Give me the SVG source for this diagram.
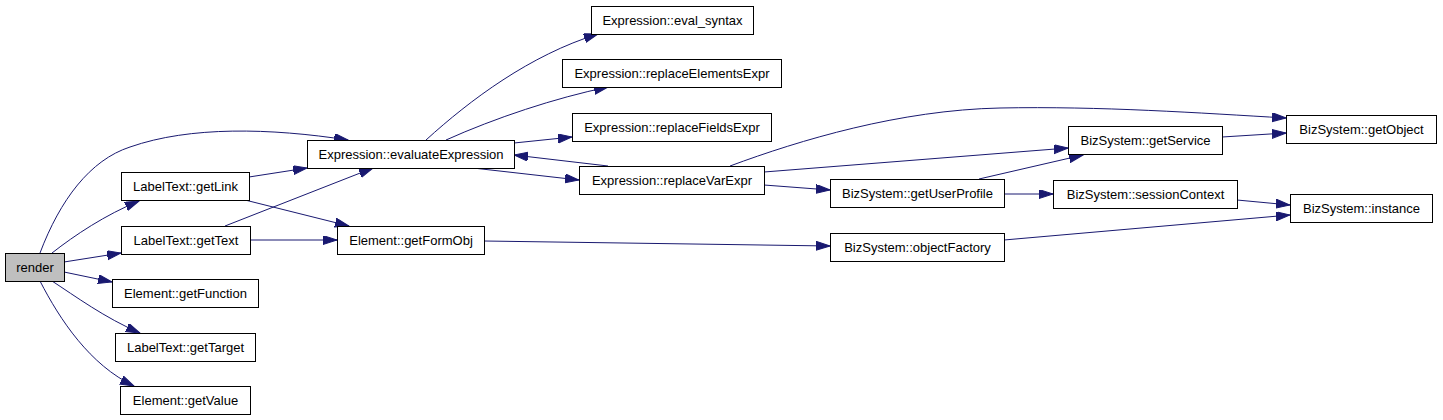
<svg xmlns="http://www.w3.org/2000/svg" width="1443" height="420" viewBox="0 0 1443 420">
<style>
.n rect{fill:#ffffff;stroke:#000000;stroke-width:1}
.n text{font-family:"Liberation Sans",Arial,sans-serif;font-size:13px;fill:#000000;text-anchor:middle}
#render rect{fill:#bfbfbf}
.e path{fill:none;stroke:#191970;stroke-width:1;marker-end:url(#arr)}
</style>
<defs>
<marker id="arr" markerUnits="userSpaceOnUse" markerWidth="15" markerHeight="10" refX="14" refY="4.5" orient="auto">
<path d="M0,0 L14,4.5 L0,9 z" fill="#191970" stroke="#191970" stroke-width="1"/>
</marker>
</defs>
<rect width="1443" height="420" fill="#ffffff"/>
<g id="connectors" class="e">
<path d="M40,253 C60,200 90,160 130,147 C190,126 270,128 348,140"/>
<path d="M52,253 C75,235 105,215 139,201"/>
<path d="M64,262 L121,253"/>
<path d="M64,272 L112,282"/>
<path d="M52,281 C75,296 105,318 140,333"/>
<path d="M40,281 C60,320 90,365 134,386"/>
<path d="M249,177 L307,168"/>
<path d="M245,200 L349,226"/>
<path d="M225,226 L373,168"/>
<path d="M250,240 L337,240"/>
<path d="M426,140 C470,100 530,55 598,34"/>
<path d="M446,140 C495,118 555,98 608,87"/>
<path d="M514,143 L572,137"/>
<path d="M608,166 L514,155"/>
<path d="M473,168 L579,180"/>
<path d="M484,241 L830,246"/>
<path d="M730,166 C800,140 900,110 1000,108 C1100,106 1200,113 1286,118"/>
<path d="M764,172 L1068,148"/>
<path d="M764,185 L830,190"/>
<path d="M979,179 L1083,155"/>
<path d="M1004,194 L1053,194"/>
<path d="M1222,137 L1286,133"/>
<path d="M1237,200 L1290,205"/>
<path d="M1004,240 L1290,215"/>
</g>
<g id="render" class="n"><rect x="5.5" y="253.5" width="59" height="28"/><text x="35" y="272">render</text></g>
<g id="getLink" class="n"><rect x="121.5" y="172.5" width="128" height="28"/><text x="185.5" y="191">LabelText::getLink</text></g>
<g id="getText" class="n"><rect x="121.5" y="226.5" width="129" height="28"/><text x="186" y="245">LabelText::getText</text></g>
<g id="getFunction" class="n"><rect x="112.5" y="279.5" width="146" height="28"/><text x="185.5" y="298">Element::getFunction</text></g>
<g id="getTarget" class="n"><rect x="115.5" y="333.5" width="140" height="28"/><text x="185.5" y="352">LabelText::getTarget</text></g>
<g id="getValue" class="n"><rect x="120.5" y="386.5" width="130" height="28"/><text x="185.5" y="405">Element::getValue</text></g>
<g id="evaluateExpression" class="n"><rect x="307.5" y="140.5" width="207" height="28"/><text x="411" y="159">Expression::evaluateExpression</text></g>
<g id="eval_syntax" class="n"><rect x="591.5" y="6.5" width="162" height="28"/><text x="672.5" y="25">Expression::eval_syntax</text></g>
<g id="replaceElementsExpr" class="n"><rect x="562.5" y="59.5" width="219" height="28"/><text x="672" y="78">Expression::replaceElementsExpr</text></g>
<g id="replaceFieldsExpr" class="n"><rect x="572.5" y="113.5" width="199" height="28"/><text x="672" y="132">Expression::replaceFieldsExpr</text></g>
<g id="replaceVarExpr" class="n"><rect x="579.5" y="166.5" width="185" height="28"/><text x="672" y="185">Expression::replaceVarExpr</text></g>
<g id="getFormObj" class="n"><rect x="337.5" y="226.5" width="147" height="28"/><text x="411" y="245">Element::getFormObj</text></g>
<g id="getService" class="n"><rect x="1068.5" y="126.5" width="154" height="28"/><text x="1145.5" y="145">BizSystem::getService</text></g>
<g id="getUserProfile" class="n"><rect x="830.5" y="179.5" width="174" height="28"/><text x="917.5" y="198">BizSystem::getUserProfile</text></g>
<g id="sessionContext" class="n"><rect x="1053.5" y="180.5" width="184" height="28"/><text x="1145.5" y="199">BizSystem::sessionContext</text></g>
<g id="objectFactory" class="n"><rect x="830.5" y="233.5" width="174" height="28"/><text x="917.5" y="252">BizSystem::objectFactory</text></g>
<g id="getObject" class="n"><rect x="1286.5" y="115.5" width="150" height="28"/><text x="1361.5" y="134">BizSystem::getObject</text></g>
<g id="instance" class="n"><rect x="1290.5" y="194.5" width="142" height="28"/><text x="1361.5" y="213">BizSystem::instance</text></g>
</svg>
